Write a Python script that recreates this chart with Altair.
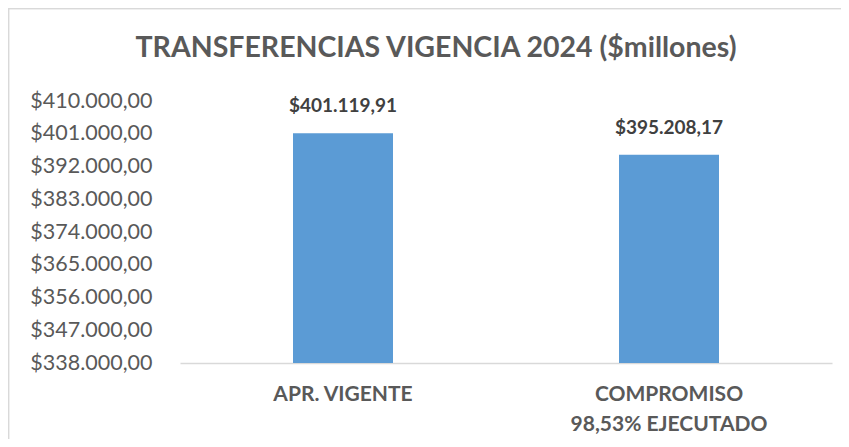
import altair as alt
import pandas as pd

categories = ["APR. VIGENTE", "COMPROMISO\n98,53% EJECUTADO"]
values = [401119.91, 395208.17]
y_ticks = [338000, 347000, 356000, 365000, 374000, 383000, 392000, 401000, 410000]

df = pd.DataFrame({"cat": categories, "val": values})

FONT = "Lato"

x_enc = alt.X("cat:N", sort=None, title=None,
              scale=alt.Scale(paddingInner=0, paddingOuter=0),
              axis=alt.Axis(labelExpr="split(datum.label, '\\n')", labelAngle=0,
                            labelFont=FONT, labelFontSize=21, labelFontWeight="bold",
                            labelColor="#595959", labelLineHeight=30, labelPadding=20,
                            labelLimit=400, ticks=False, domainColor="#d9d9d9",
                            domainWidth=1.5, grid=False))
y_enc = alt.Y("val:Q", title=None,
              scale=alt.Scale(domain=[338000, 410000], nice=False, zero=False),
              axis=alt.Axis(values=y_ticks, tickCount=len(y_ticks), format="$,.2f",
                            labelFont=FONT, labelFontSize=21.5, labelColor="#595959",
                            ticks=False, domain=False, grid=False, labelPadding=28,
                            labelOverlap=False))

border = alt.Chart(df).mark_rect(fill=None, stroke="#d9d9d9", strokeWidth=1.5).encode(
    x=alt.value(-171.5), x2=alt.value(700), y=alt.value(-92.5), y2=alt.value(400)
)

bars = alt.Chart(df).mark_bar(size=100, color="#5B9BD5", clip=True).encode(x=x_enc, y=y_enc)

labels = alt.Chart(df).mark_text(dy=-27, font=FONT, fontSize=19, fontWeight="bold",
                                 color="#404040").encode(
    x=alt.X("cat:N", sort=None), y="val:Q", text=alt.Text("val:Q", format="$,.2f")
)

chart = alt.layer(border, bars, labels).properties(
    width=652, height=262,
    autosize=alt.AutoSizeParams(type="none"),
    padding={"left": 172, "top": 93, "right": 9, "bottom": 76},
    title=alt.TitleParams("TRANSFERENCIAS VIGENCIA 2024 ($millones)", font=FONT,
                          fontSize=28.5, fontWeight="bold", color="#595959",
                          anchor="middle", frame="group", baseline="bottom",
                          offset=0, dx=-70, dy=84),
).configure(
    locale={"number": {"decimal": ",", "thousands": ".", "grouping": [3],
                       "currency": ["$", ""]}}
).configure_view(stroke=None)

chart.save("out.html", embed_options={"renderer": "svg", "actions": False})
